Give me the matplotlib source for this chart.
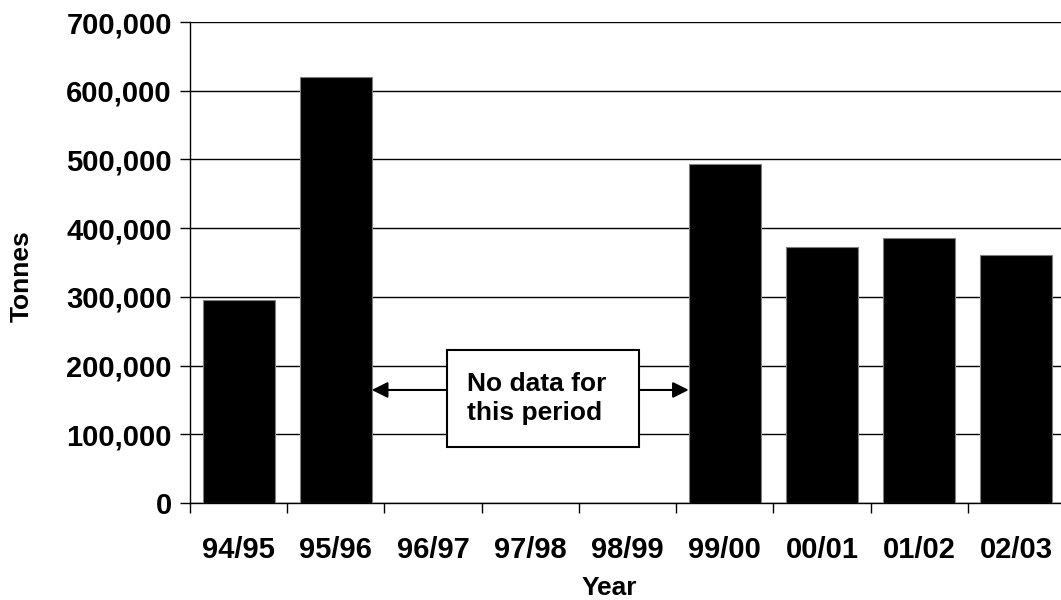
import matplotlib
matplotlib.use("Agg")
import matplotlib.pyplot as plt
from matplotlib.patches import Rectangle
import numpy as np

# tonnes per year, no data for 96/97 - 98/99
years = ["94/95", "95/96", "96/97", "97/98", "98/99", "99/00", "00/01", "01/02", "02/03"]
tonnes = [295000, 620000, np.nan, np.nan, np.nan, 493000, 372000, 386000, 360500]
y_ticks = [0, 100000, 200000, 300000, 400000, 500000, 600000, 700000]

plt.rcParams['font.family'] = ['Liberation Sans', 'DejaVu Sans']
plt.rcParams['font.weight'] = 'bold'

fig = plt.figure(figsize=(10.61, 6.0), dpi=100)
ax = fig.add_axes([190 / 1061, 97 / 600, 875 / 1061, 481 / 600])

x = np.arange(len(years))
ax.bar(x, tonnes, width=0.74, color='black', edgecolor='#808080', linewidth=0.8, zorder=3)

ax.set_xlim(-0.5, len(years) - 0.5)
ax.set_ylim(0, 700000)
ax.set_yticks(y_ticks)
ax.set_yticklabels([f"{v:,}" for v in y_ticks], fontsize=21, fontweight='bold')
ax.yaxis.grid(True, color='black', linewidth=1.0, zorder=0)
ax.tick_params(axis='y', direction='out', length=7, width=1, pad=6)

# labels centred, ticks at category boundaries
ax.set_xticks(x)
ax.set_xticklabels(years, fontsize=21, fontweight='bold')
ax.tick_params(axis='x', which='major', length=0, pad=24)
ax.set_xticks(np.arange(-0.5, len(years)), minor=True)
ax.tick_params(axis='x', which='minor', direction='out', length=7, width=1)

for s in ['top', 'right']:
    ax.spines[s].set_visible(False)
ax.spines['left'].set_linewidth(1)
ax.spines['bottom'].set_linewidth(1)

fig.text(22 / 1061, 1 - 276 / 600, "Tonnes", rotation=90, ha='center', va='center',
         fontsize=19, fontweight='bold')
fig.text(609 / 1061, 1 - 588 / 600, "Year", ha='center', va='center',
         fontsize=19, fontweight='bold')

# "no data" box and arrows
box_l, box_r = 2.144, 4.12
box_b, box_t = 81000, 222000
ax.add_patch(Rectangle((box_l, box_b), box_r - box_l, box_t - box_b, facecolor='white',
                       edgecolor='black', linewidth=1.5, zorder=4))
ax.text(2.35, 152000, "No data for\nthis period", ha='left', va='center', fontsize=19,
        fontweight='bold', linespacing=1.3, zorder=5)
arrow_y = 164500
ax.annotate("", xy=(1.37, arrow_y), xytext=(box_l, arrow_y),
            arrowprops=dict(arrowstyle='-|>', color='black', lw=1.5, mutation_scale=24,
                            shrinkA=0, shrinkB=0), zorder=5)
ax.annotate("", xy=(4.63, arrow_y), xytext=(box_r, arrow_y),
            arrowprops=dict(arrowstyle='-|>', color='black', lw=1.5, mutation_scale=24,
                            shrinkA=0, shrinkB=0), zorder=5)

fig.savefig("out.png", dpi=100)
